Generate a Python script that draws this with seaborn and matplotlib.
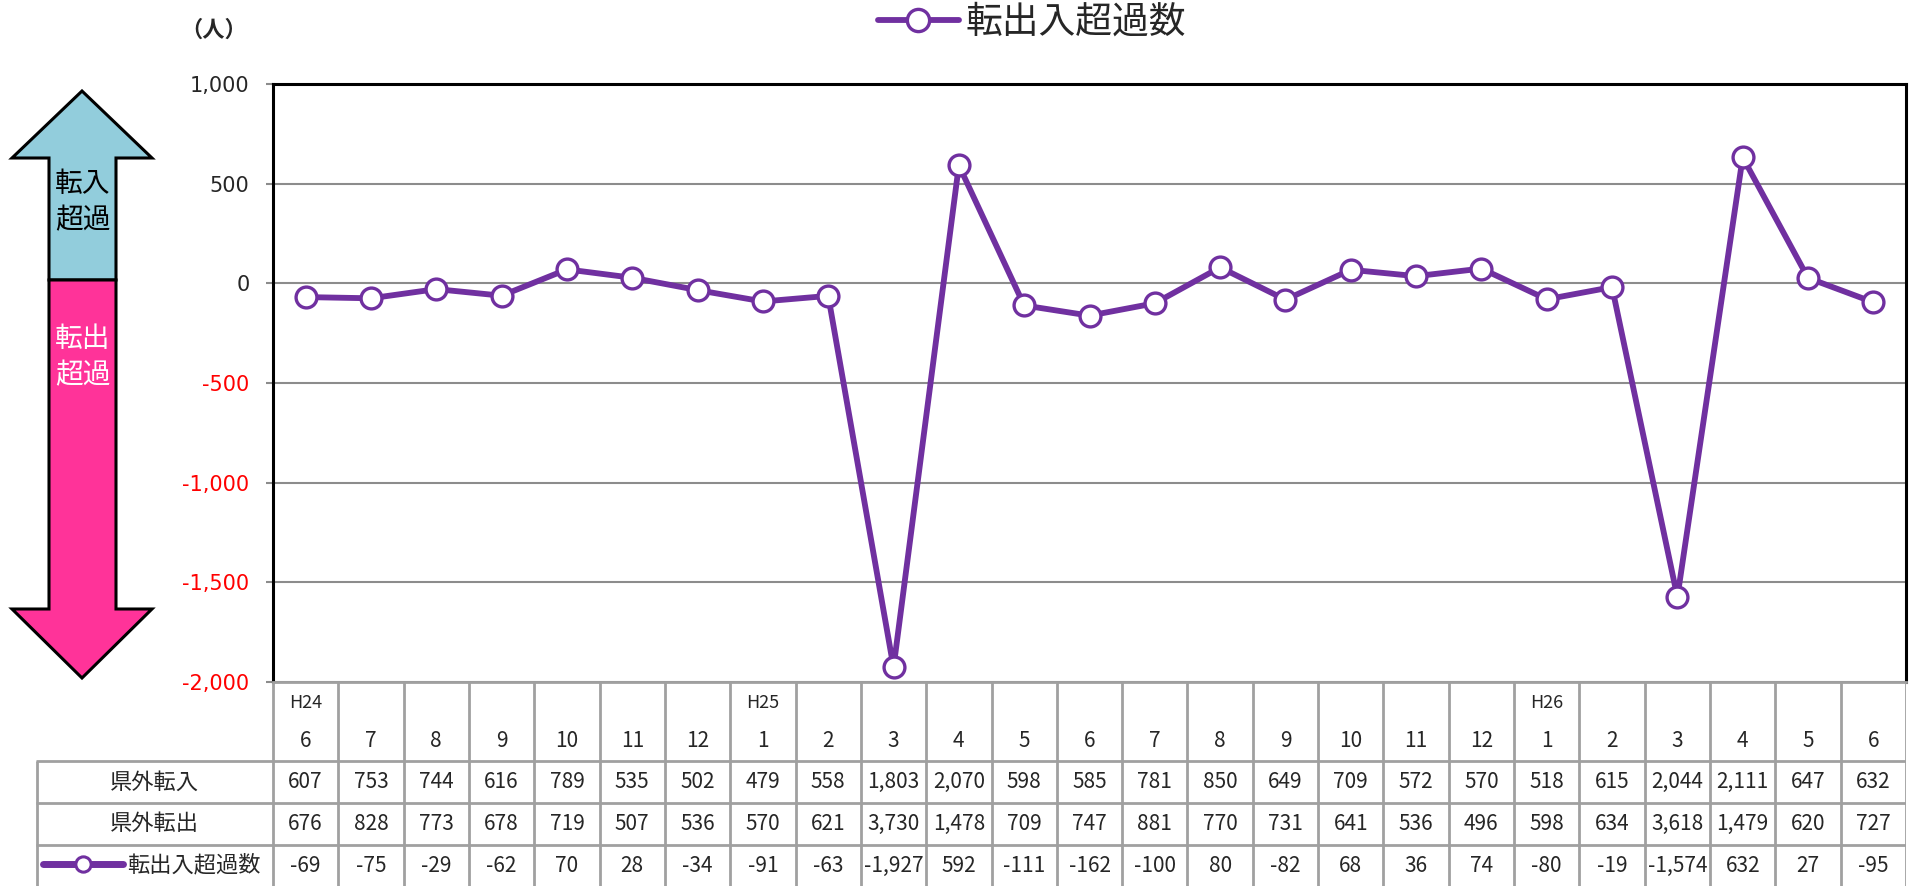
import numpy as np
import pandas as pd
import matplotlib
matplotlib.use("Agg")
import matplotlib.pyplot as plt
import seaborn as sns
from matplotlib.patches import Polygon
from matplotlib.lines import Line2D
from matplotlib.ticker import FuncFormatter

# Data (H24.6 - H26.6)
years = ["H24", "", "", "", "", "", "", "H25", "", "", "", "", "", "", "", "", "", "", "",
         "H26", "", "", "", "", ""]
months = [6, 7, 8, 9, 10, 11, 12, 1, 2, 3, 4, 5, 6, 7, 8, 9, 10, 11, 12, 1, 2, 3, 4, 5, 6]
tennyu = [607, 753, 744, 616, 789, 535, 502, 479, 558, 1803, 2070, 598, 585, 781, 850,
          649, 709, 572, 570, 518, 615, 2044, 2111, 647, 632]
tenshutsu = [676, 828, 773, 678, 719, 507, 536, 570, 621, 3730, 1478, 709, 747, 881, 770,
             731, 641, 536, 496, 598, 634, 3618, 1479, 620, 727]
net = [-69, -75, -29, -62, 70, 28, -34, -91, -63, -1927, 592, -111, -162, -100, 80,
       -82, 68, 36, 74, -80, -19, -1574, 632, 27, -95]
row_labels = ["県外転入", "県外転出"]
series_name = "転出入超過数"

PURPLE = "#7030A0"
GRID = "#A0A0A0"
W, H = 1910, 886

sns.set_style("white")
plt.rcParams["font.family"] = ["Noto Sans CJK JP", "DejaVu Sans"]

df = pd.DataFrame({"pos": range(len(months)), "net": net})

fig = plt.figure(figsize=(W / 100, H / 100), dpi=100)

# main chart
ax = fig.add_axes([273 / W, 1 - 682 / H, (1906 - 273) / W, (682 - 84) / H])
sns.lineplot(data=df, x="pos", y="net", ax=ax, color=PURPLE, lw=4.2, marker="o",
             markersize=15, markerfacecolor="white", markeredgecolor=PURPLE,
             markeredgewidth=2.4, legend=False, zorder=3)
ax.set_xlim(-0.5, len(months) - 0.5)
ax.set_ylim(-2000, 1000)
ax.set_yticks(range(-2000, 1001, 500))
ax.yaxis.set_major_formatter(FuncFormatter(lambda v, p: f"{int(v):,}"))
ax.set_xticks([])
ax.set_xlabel("")
ax.set_ylabel("")
ax.yaxis.grid(True, color="#8C8C8C", lw=1.5)
ax.set_axisbelow(True)
ax.tick_params(axis="y", left=True, length=5, width=1.5, color="#8C8C8C", pad=12, labelsize=15)
for lab in ax.get_yticklabels():
    lab.set_family("DejaVu Sans")
    if lab.get_text().startswith("-") or lab.get_text().startswith("\u2212"):
        lab.set_color("red")
for s in ["left", "top", "right"]:
    ax.spines[s].set_color("black")
    ax.spines[s].set_linewidth(2.2)
ax.spines["bottom"].set_color(GRID)
ax.spines["bottom"].set_linewidth(2)

# legend at the top
handle = Line2D([], [], color=PURPLE, lw=4.2, marker="o", markersize=16,
                markerfacecolor="white", markeredgecolor=PURPLE, markeredgewidth=2.4)
fig.legend(handles=[handle], labels=[series_name], loc="center left",
           bbox_to_anchor=(878 / W, 1 - 22 / H), frameon=False, fontsize=26.5,
           handlelength=2.2, handletextpad=0.17, borderpad=0, borderaxespad=0)

fig.text(214 / W, 1 - 30 / H, "（人）", ha="center", va="center", fontsize=16,
         fontweight="bold")

# arrows on the left
def px(pts):
    return [(x / W, 1 - y / H) for x, y in pts]

up = Polygon(px([(82, 91), (152, 158), (116, 158), (116, 280), (49, 280), (49, 158), (12, 158)]),
             closed=True, facecolor="#92CDDC", edgecolor="black", lw=2.2, transform=fig.transFigure)
down = Polygon(px([(49, 280), (116, 280), (116, 609), (152, 609), (82, 678), (12, 609), (49, 609)]),
               closed=True, facecolor="#FF3399", edgecolor="black", lw=2.2, transform=fig.transFigure)
fig.add_artist(up)
fig.add_artist(down)
fig.text(83 / W, 1 - 202 / H, "転入\n超過", ha="center", va="center", fontsize=20,
         color="black", linespacing=1.3)
fig.text(83 / W, 1 - 357 / H, "転出\n超過", ha="center", va="center", fontsize=20,
         color="white", linespacing=1.3)

# data table under the chart
colw = (1906 - 273) / len(months)
xleft = -0.5 - (273 - 36) / colw
xright = len(months) - 0.5
tab = fig.add_axes([36 / W, 0, (1906 - 36) / W, 204 / H])
tab.set_xlim(xleft, xright)
tab.set_ylim(0, 204)
tab.axis("off")

edges = np.arange(len(months) + 1) - 0.5
tab.vlines(edges, 0, 204, color=GRID, lw=2)
tab.vlines([xleft + 0.02], 0, 125, color=GRID, lw=2)
tab.hlines([41, 83, 125], xleft, xright, color=GRID, lw=2)

for i in range(len(months)):
    tab.text(i, 183, years[i], ha="center", va="center", fontsize=13)
    tab.text(i, 145, str(months[i]), ha="center", va="center", fontsize=15)
    tab.text(i, 104, f"{tennyu[i]:,}", ha="center", va="center", fontsize=15)
    tab.text(i, 62, f"{tenshutsu[i]:,}", ha="center", va="center", fontsize=15)
    tab.text(i, 20, f"{net[i]:,}", ha="center", va="center", fontsize=15)

label_x = (xleft - 0.5) / 2
tab.text(label_x, 104, row_labels[0], ha="center", va="center", fontsize=16)
tab.text(label_x, 62, row_labels[1], ha="center", va="center", fontsize=16)

small = Line2D([], [], color=PURPLE, lw=5, marker="o", markersize=11,
               markerfacecolor="white", markeredgecolor=PURPLE, markeredgewidth=2.2)
tab.legend(handles=[small], labels=[series_name], loc="center left",
           bbox_to_anchor=(43 / W, 21 / H), bbox_transform=fig.transFigure, frameon=False,
           fontsize=16, handlelength=3.6, handletextpad=0.2, borderpad=0, borderaxespad=0)

fig.savefig("out.png", dpi=100)
